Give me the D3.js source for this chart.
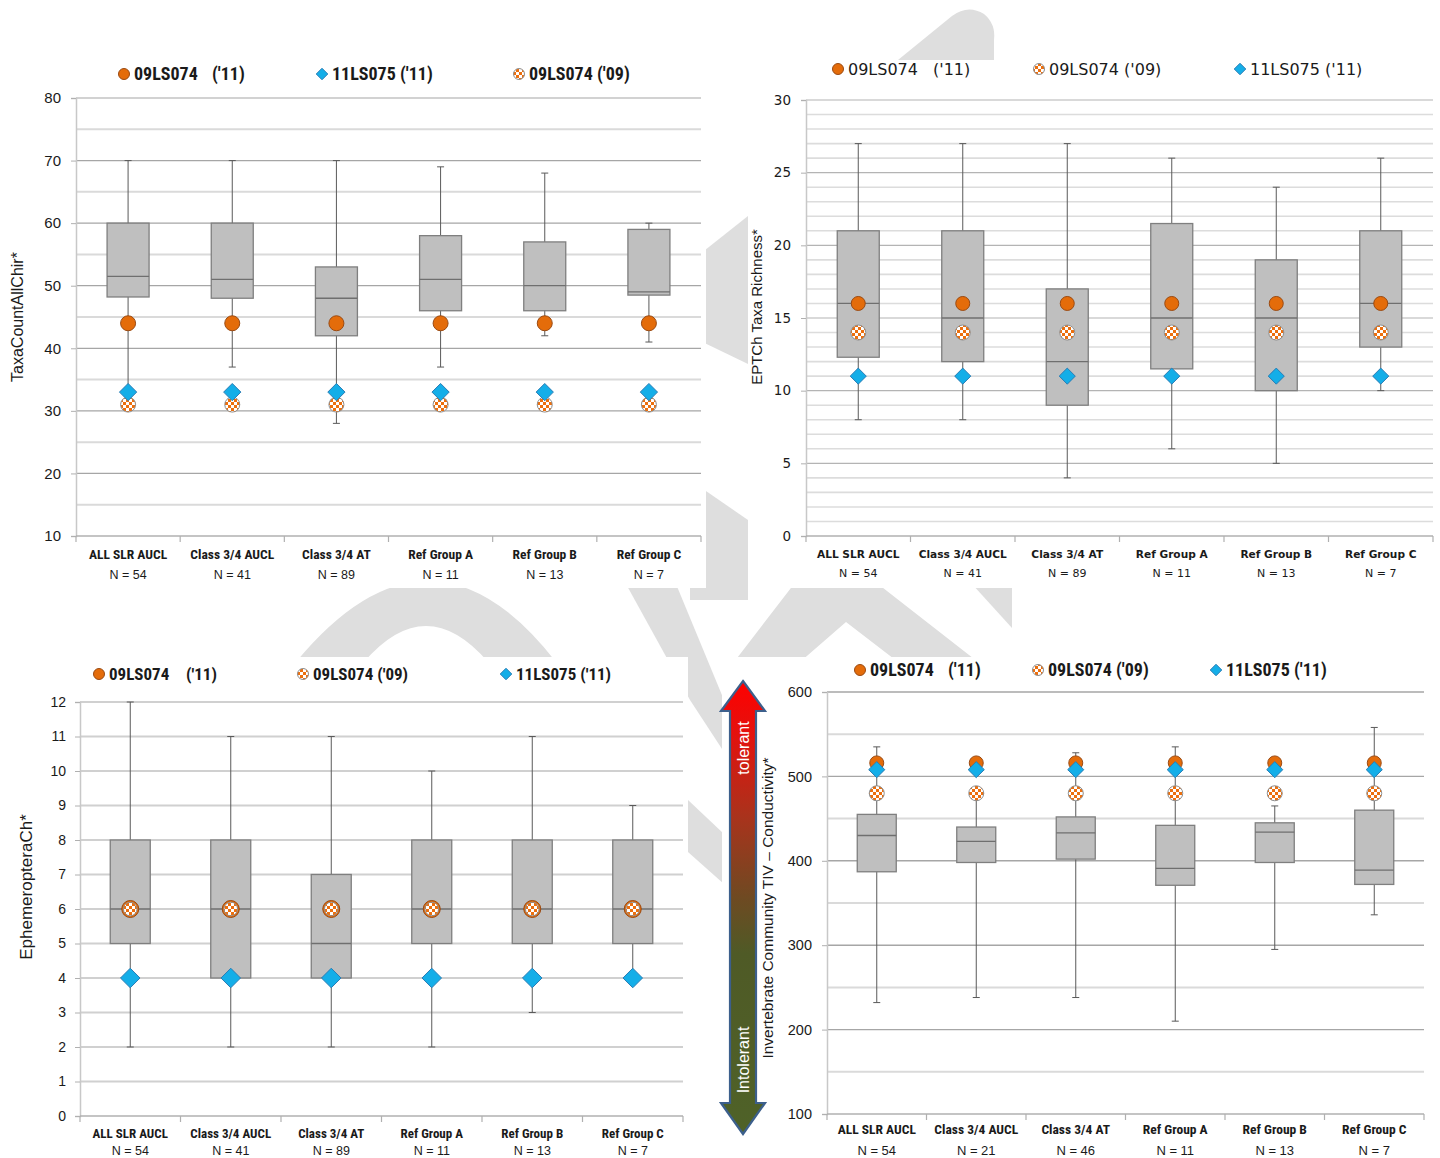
<!DOCTYPE html>
<html><head><meta charset="utf-8">
<script src="https://cdn.jsdelivr.net/npm/d3@7/dist/d3.min.js"></script>
<style>body{margin:0;background:#fff}svg{display:block}</style>
</head><body>
<svg id="c" width="1440" height="1158"></svg>
<script>
// ---------------- DATA ----------------
const categories = ["ALL SLR AUCL","Class 3/4 AUCL","Class 3/4 AT","Ref Group A","Ref Group B","Ref Group C"];
const nCounts = ["N = 54","N = 41","N = 89","N = 11","N = 13","N = 7"];
const nCountsTIV = ["N = 54","N = 21","N = 46","N = 11","N = 13","N = 7"];

// Panel 1: TaxaCountAllChir*
const taxaMax = [70,70,70,69,68,60];
const taxaQ3  = [60,60,53,58,57,59];
const taxaMed = [51.5,51,48,51,50,49];
const taxaQ1  = [48.2,48,42,46,46,48.5];
const taxaMin = [31,37,28,37,42,41];
const taxa11_074 = [44,44,44,44,44,44];
const taxa11_075 = [33,33,33,33,33,33];
const taxa09_074 = [31,31,31,31,31,31];
const taxaTicks = [10,20,30,40,50,60,70,80];

// Panel 2: EPTCh Taxa Richness*
const eptMax = [27,27,27,26,24,26];
const eptQ3  = [21,21,17,21.5,19,21];
const eptMed = [16,15,12,15,15,16];
const eptQ1  = [12.3,12,9,11.5,10,13];
const eptMin = [8,8,4,6,5,10];
const ept11_074 = [16,16,16,16,16,16];
const ept09_074 = [14,14,14,14,14,14];
const ept11_075 = [11,11,11,11,11,11];
const eptTicks = [0,5,10,15,20,25,30];

// Panel 3: EphemeropteraCh*
const ephMax = [12,11,11,10,11,9];
const ephQ3  = [8,8,7,8,8,8];
const ephMed = [6,6,5,6,6,6];
const ephQ1  = [5,4,4,5,5,5];
const ephMin = [2,2,2,2,3,4];
const eph11_074 = [6,6,6,6,6,6];
const eph09_074 = [6,6,6,6,6,6];
const eph11_075 = [4,4,4,4,4,4];
const ephTicks = [0,1,2,3,4,5,6,7,8,9,10,11,12];

// Panel 4: Invertebrate Community TIV – Conductivity*
const tivMax = [535,478,528,535,465,558];
const tivQ3  = [455,440,452,442,445,460];
const tivMed = [430,423,433,391,434,389];
const tivQ1  = [387,398,402,371,398,372];
const tivMin = [232,238,238,210,295,336];
const tiv11_074 = [516,516,516,516,516,516];
const tiv09_074 = [480,480,480,480,480,480];
const tiv11_075 = [508,508,508,508,508,508];
const tivTicks = [100,200,300,400,500,600];

const legendLabels = {o:["09LS074","('11)"], h:["09LS074 ('09)"], d:["11LS075 ('11)"]};

// ---------------- DRAW ----------------
const svg = d3.select("#c");
const defs = svg.append("defs");
function checker(id, s){
  const p = defs.append("pattern").attr("id",id).attr("patternUnits","userSpaceOnUse")
    .attr("width",2*s).attr("height",2*s);
  p.append("rect").attr("width",2*s).attr("height",2*s).attr("fill","#ec6f0e");
  p.append("rect").attr("width",s).attr("height",s).attr("fill","#fff");
  p.append("rect").attr("x",s).attr("y",s).attr("width",s).attr("height",s).attr("fill","#fff");
}
checker("chk",3);
const grad = defs.append("linearGradient").attr("id","arrowGrad").attr("x1",0).attr("x2",0).attr("y1",0).attr("y2",1);
[["0%","#ff0000"],["12%","#e3120e"],["30%","#a9331c"],["48%","#6e4a22"],["60%","#4f5a26"],["100%","#4f6228"]]
  .forEach(s=>grad.append("stop").attr("offset",s[0]).attr("stop-color",s[1]));

// watermark shapes
const wm = svg.append("g").attr("fill","#dedede");
wm.append("path").attr("d","M898,60 L952,16 Q968,4 984,14 Q996,24 994,40 L994,60 Z");
wm.append("path").attr("d","M748,216 L690,262 L690,336 L748,364 Z");
wm.append("path").attr("d","M690,480 L748,520 L748,600 L690,600 Z");
wm.append("path").attr("d","M296,662 Q430,500 556,662 L488,662 Q426,590 364,662 Z");
wm.append("path").attr("d","M626,584 L676,584 L724,700 L724,752 L690,700 Z");
wm.append("path").attr("d","M688,800 L724,834 L724,884 L688,852 Z");
wm.append("path").attr("d","M734,662 L794,584 L878,584 L978,662 L898,662 L846,622 L800,662 Z");
wm.append("path").attr("d","M972,584 L1012,584 L1012,628 Z");

// white panels
const wp = svg.append("g").attr("fill","#fff");
[[0,0,706,588],[748,60,692,528],[0,657,688,501],[722,657,63,501],[785,657,655,501]]
  .forEach(r=>wp.append("rect").attr("x",r[0]).attr("y",r[1]).attr("width",r[2]).attr("height",r[3]));

const ORANGE="#e46c0a", ORSTROKE="#9a4a12", BLUE="#14aee8", BLSTROKE="#2a7db5";

function drawMarker(g, type, cx, cy, r){
  if(type==="o"){
    g.append("circle").attr("cx",cx).attr("cy",cy).attr("r",r).attr("fill",ORANGE).attr("stroke",ORSTROKE).attr("stroke-width",1);
  } else if(type==="h"){
    g.append("circle").attr("cx",cx).attr("cy",cy).attr("r",r).attr("fill","url(#chk)").attr("stroke","#8f8f8f").attr("stroke-width",1);
  } else {
    const s=r*1.15;
    g.append("path").attr("d",`M${cx},${cy-s} L${cx+s},${cy} L${cx},${cy+s} L${cx-s},${cy} Z`)
      .attr("fill",BLUE).attr("stroke",BLSTROKE).attr("stroke-width",1);
  }
}

function panel(cfg, st, marks, nlab){
  const g = svg.append("g");
  const x = d3.scaleBand().domain(categories).range([cfg.x0,cfg.x1]);
  const y = d3.scaleLinear().domain(cfg.domain).range([cfg.yBot,cfg.yTop]);
  const minors = d3.range(cfg.domain[0], cfg.domain[1]+1e-9, cfg.minorStep).filter(v=>!cfg.ticks.includes(v));
  g.selectAll(".mn").data(minors).join("line")
    .attr("x1",cfg.x0).attr("x2",cfg.x1).attr("y1",d=>y(d)).attr("y2",d=>y(d))
    .attr("stroke",cfg.minorColor).attr("stroke-width",cfg.minorW);
  g.selectAll(".mj").data(cfg.ticks.filter(v=>v!==cfg.domain[0])).join("line")
    .attr("x1",cfg.x0).attr("x2",cfg.x1).attr("y1",d=>y(d)).attr("y2",d=>y(d))
    .attr("stroke",cfg.majorColor).attr("stroke-width",cfg.majorW);
  const ya = g.append("g").attr("transform",`translate(${cfg.x0},0)`)
    .call(d3.axisLeft(y).tickValues(cfg.ticks).tickSize(5).tickPadding(cfg.tickPad||6));
  ya.select(".domain").attr("stroke","#c8c8c8").attr("stroke-width",1.5);
  ya.selectAll(".tick line").attr("stroke","#b0b0b0");
  ya.selectAll(".tick text").attr("font-family",cfg.numFont).attr("font-size",cfg.numSize).attr("fill","#1a1a1a");
  g.append("line").attr("x1",cfg.x0).attr("x2",cfg.x1).attr("y1",cfg.yBot).attr("y2",cfg.yBot)
    .attr("stroke","#b0b0b0").attr("stroke-width",1.5);
  g.selectAll(".bt").data(d3.range(categories.length+1)).join("line")
    .attr("x1",i=>cfg.x0+i*x.step()).attr("x2",i=>cfg.x0+i*x.step())
    .attr("y1",cfg.yBot).attr("y2",cfg.yBot+6).attr("stroke","#b0b0b0").attr("stroke-width",1.2);
  g.selectAll(".cl").data(categories).join("text")
    .attr("x",d=>x(d)+x.bandwidth()/2).attr("y",cfg.catY).attr("text-anchor","middle")
    .attr("font-family",cfg.catFont).attr("font-weight","bold").attr("font-size",cfg.catSize).attr("fill","#1a1a1a")
    .text(d=>d);
  g.selectAll(".nl").data(nlab).join("text")
    .attr("x",(d,i)=>x(categories[i])+x.bandwidth()/2).attr("y",cfg.nY).attr("text-anchor","middle")
    .attr("font-family",cfg.nFont).attr("font-size",cfg.nSize).attr("fill","#1a1a1a")
    .text(d=>d);
  g.append("text").attr("transform",`translate(${cfg.titleX},${cfg.titleY}) rotate(-90)`)
    .attr("text-anchor","middle").attr("font-family",cfg.titleFont).attr("font-size",cfg.titleSize).attr("fill","#1a1a1a")
    .text(cfg.title);
  const bw = cfg.boxW;
  categories.forEach((c,i)=>{
    const cx = x(c)+x.bandwidth()/2;
    g.append("line").attr("x1",cx).attr("x2",cx).attr("y1",y(st.max[i])).attr("y2",y(st.min[i]))
      .attr("stroke","#5a5a5a").attr("stroke-width",1);
    [st.max[i],st.min[i]].forEach(v=>g.append("line").attr("x1",cx-3.5).attr("x2",cx+3.5).attr("y1",y(v)).attr("y2",y(v))
      .attr("stroke","#5a5a5a").attr("stroke-width",1));
    g.append("rect").attr("x",cx-bw/2).attr("y",y(st.q3[i])).attr("width",bw).attr("height",y(st.q1[i])-y(st.q3[i]))
      .attr("fill","#bfbfbf").attr("stroke","#7f7f7f").attr("stroke-width",1.3);
    g.append("line").attr("x1",cx-bw/2).attr("x2",cx+bw/2).attr("y1",y(st.med[i])).attr("y2",y(st.med[i]))
      .attr("stroke","#6f6f6f").attr("stroke-width",1.3);
  });
  ["o","h","d"].forEach(t=>{
    marks[t].forEach((v,i)=>{
      const cx = x(categories[i])+x.bandwidth()/2;
      drawMarker(g,t,cx,y(v), t==="h"?cfg.hr:cfg.mr);
    });
  });
  cfg.legend.forEach(L=>{
    drawMarker(g,L.t,L.x,cfg.legY, L.t==="d"?5:5.5);
    const labs = legendLabels[L.t];
    g.append("text").attr("x",L.x+10).attr("y",cfg.legY).attr("dy","0.35em")
      .attr("font-family",cfg.legFont).attr("font-weight",cfg.legWeight).attr("font-size",cfg.legSize).attr("fill","#1a1a1a")
      .text(labs[0]);
    if(labs[1]) g.append("text").attr("x",L.x2).attr("y",cfg.legY).attr("dy","0.35em")
      .attr("font-family",cfg.legFont).attr("font-weight",cfg.legWeight).attr("font-size",cfg.legSize).attr("fill","#1a1a1a")
      .text(labs[1]);
  });
}

const NARROW = "'Liberation Sans Narrow','Arial Narrow','Roboto Condensed','Liberation Sans',sans-serif";
const SANS = "'Liberation Sans',Arial,sans-serif";
const DJ = "'DejaVu Sans',Verdana,sans-serif";

panel({x0:76,x1:701,yTop:98,yBot:536,domain:[10,80],ticks:taxaTicks,minorStep:5,
  minorColor:"#dadada",minorW:2,majorColor:"#a6a6a6",majorW:1.2,
  numFont:SANS,numSize:15,tickPad:10,catFont:NARROW,catSize:13.5,catY:559,nFont:SANS,nSize:12.5,nY:579,
  titleFont:SANS,titleSize:16,titleX:23,titleY:317,title:"TaxaCountAllChir*",boxW:42,mr:7.5,hr:7.5,
  legY:74,legFont:NARROW,legWeight:"bold",legSize:18,
  legend:[{t:"o",x:124,x2:212},{t:"d",x:322},{t:"h",x:519}]},
  {max:taxaMax,q3:taxaQ3,med:taxaMed,q1:taxaQ1,min:taxaMin},
  {o:taxa11_074,h:taxa09_074,d:taxa11_075}, nCounts);

panel({x0:806,x1:1433,yTop:100,yBot:536,domain:[0,30],ticks:eptTicks,minorStep:1,
  minorColor:"#dcdcdc",minorW:1.6,majorColor:"#b4b4b4",majorW:1.2,
  numFont:DJ,numSize:13.5,tickPad:10,catFont:DJ,catSize:10.6,catY:558,nFont:DJ,nSize:11,nY:577,
  titleFont:SANS,titleSize:15,titleX:762,titleY:307,title:"EPTCh Taxa Richness*",boxW:42,mr:7,hr:7.5,
  legY:69,legFont:DJ,legWeight:"normal",legSize:16,
  legend:[{t:"o",x:838,x2:933},{t:"h",x:1039},{t:"d",x:1240}]},
  {max:eptMax,q3:eptQ3,med:eptMed,q1:eptQ1,min:eptMin},
  {o:ept11_074,h:ept09_074,d:ept11_075}, nCounts);

panel({x0:80,x1:683,yTop:702,yBot:1116,domain:[0,12],ticks:ephTicks,minorStep:1,
  minorColor:"#d6d6d6",minorW:2,majorColor:"#d0d0d0",majorW:1.8,
  numFont:SANS,numSize:14,tickPad:9,catFont:NARROW,catSize:13,catY:1138,nFont:SANS,nSize:12.5,nY:1155,
  titleFont:SANS,titleSize:17,titleX:32,titleY:887,title:"EphemeropteraCh*",boxW:40,mr:8.5,hr:6.8,
  legY:674,legFont:NARROW,legWeight:"bold",legSize:17,
  legend:[{t:"o",x:99,x2:186},{t:"h",x:303},{t:"d",x:506}]},
  {max:ephMax,q3:ephQ3,med:ephMed,q1:ephQ1,min:ephMin},
  {o:eph11_074,h:eph09_074,d:eph11_075}, nCounts);

panel({x0:827,x1:1424,yTop:692,yBot:1114,domain:[100,600],ticks:tivTicks,minorStep:50,
  minorColor:"#dadada",minorW:2,majorColor:"#a6a6a6",majorW:1.4,
  numFont:SANS,numSize:14.5,tickPad:10,catFont:NARROW,catSize:13.5,catY:1134,nFont:SANS,nSize:13,nY:1155,
  titleFont:SANS,titleSize:15.5,titleX:773,titleY:908,title:"Invertebrate Community TIV – Conductivity*",boxW:39,mr:7,hr:7.5,
  legY:670,legFont:NARROW,legWeight:"bold",legSize:18,
  legend:[{t:"o",x:860,x2:948},{t:"h",x:1038},{t:"d",x:1216}]},
  {max:tivMax,q3:tivQ3,med:tivMed,q1:tivQ1,min:tivMin},
  {o:tiv11_074,h:tiv09_074,d:tiv11_075}, nCountsTIV);

// tolerance arrow
const ag = svg.append("g");
ag.append("path").attr("d","M743,681 L765,711 L756,711 L756,1103 L765,1103 L743,1134 L721,1103 L730,1103 L730,711 L721,711 Z")
  .attr("fill","url(#arrowGrad)").attr("stroke","#3c5f8c").attr("stroke-width",2.2).attr("stroke-linejoin","miter");
ag.append("text").attr("transform","translate(749,748) rotate(-90)").attr("text-anchor","middle")
  .attr("font-family",SANS).attr("font-size",16).attr("fill","#fff").text("tolerant");
ag.append("text").attr("transform","translate(749,1060) rotate(-90)").attr("text-anchor","middle")
  .attr("font-family",SANS).attr("font-size",16).attr("fill","#fff").text("Intolerant");
</script>
</body></html>
